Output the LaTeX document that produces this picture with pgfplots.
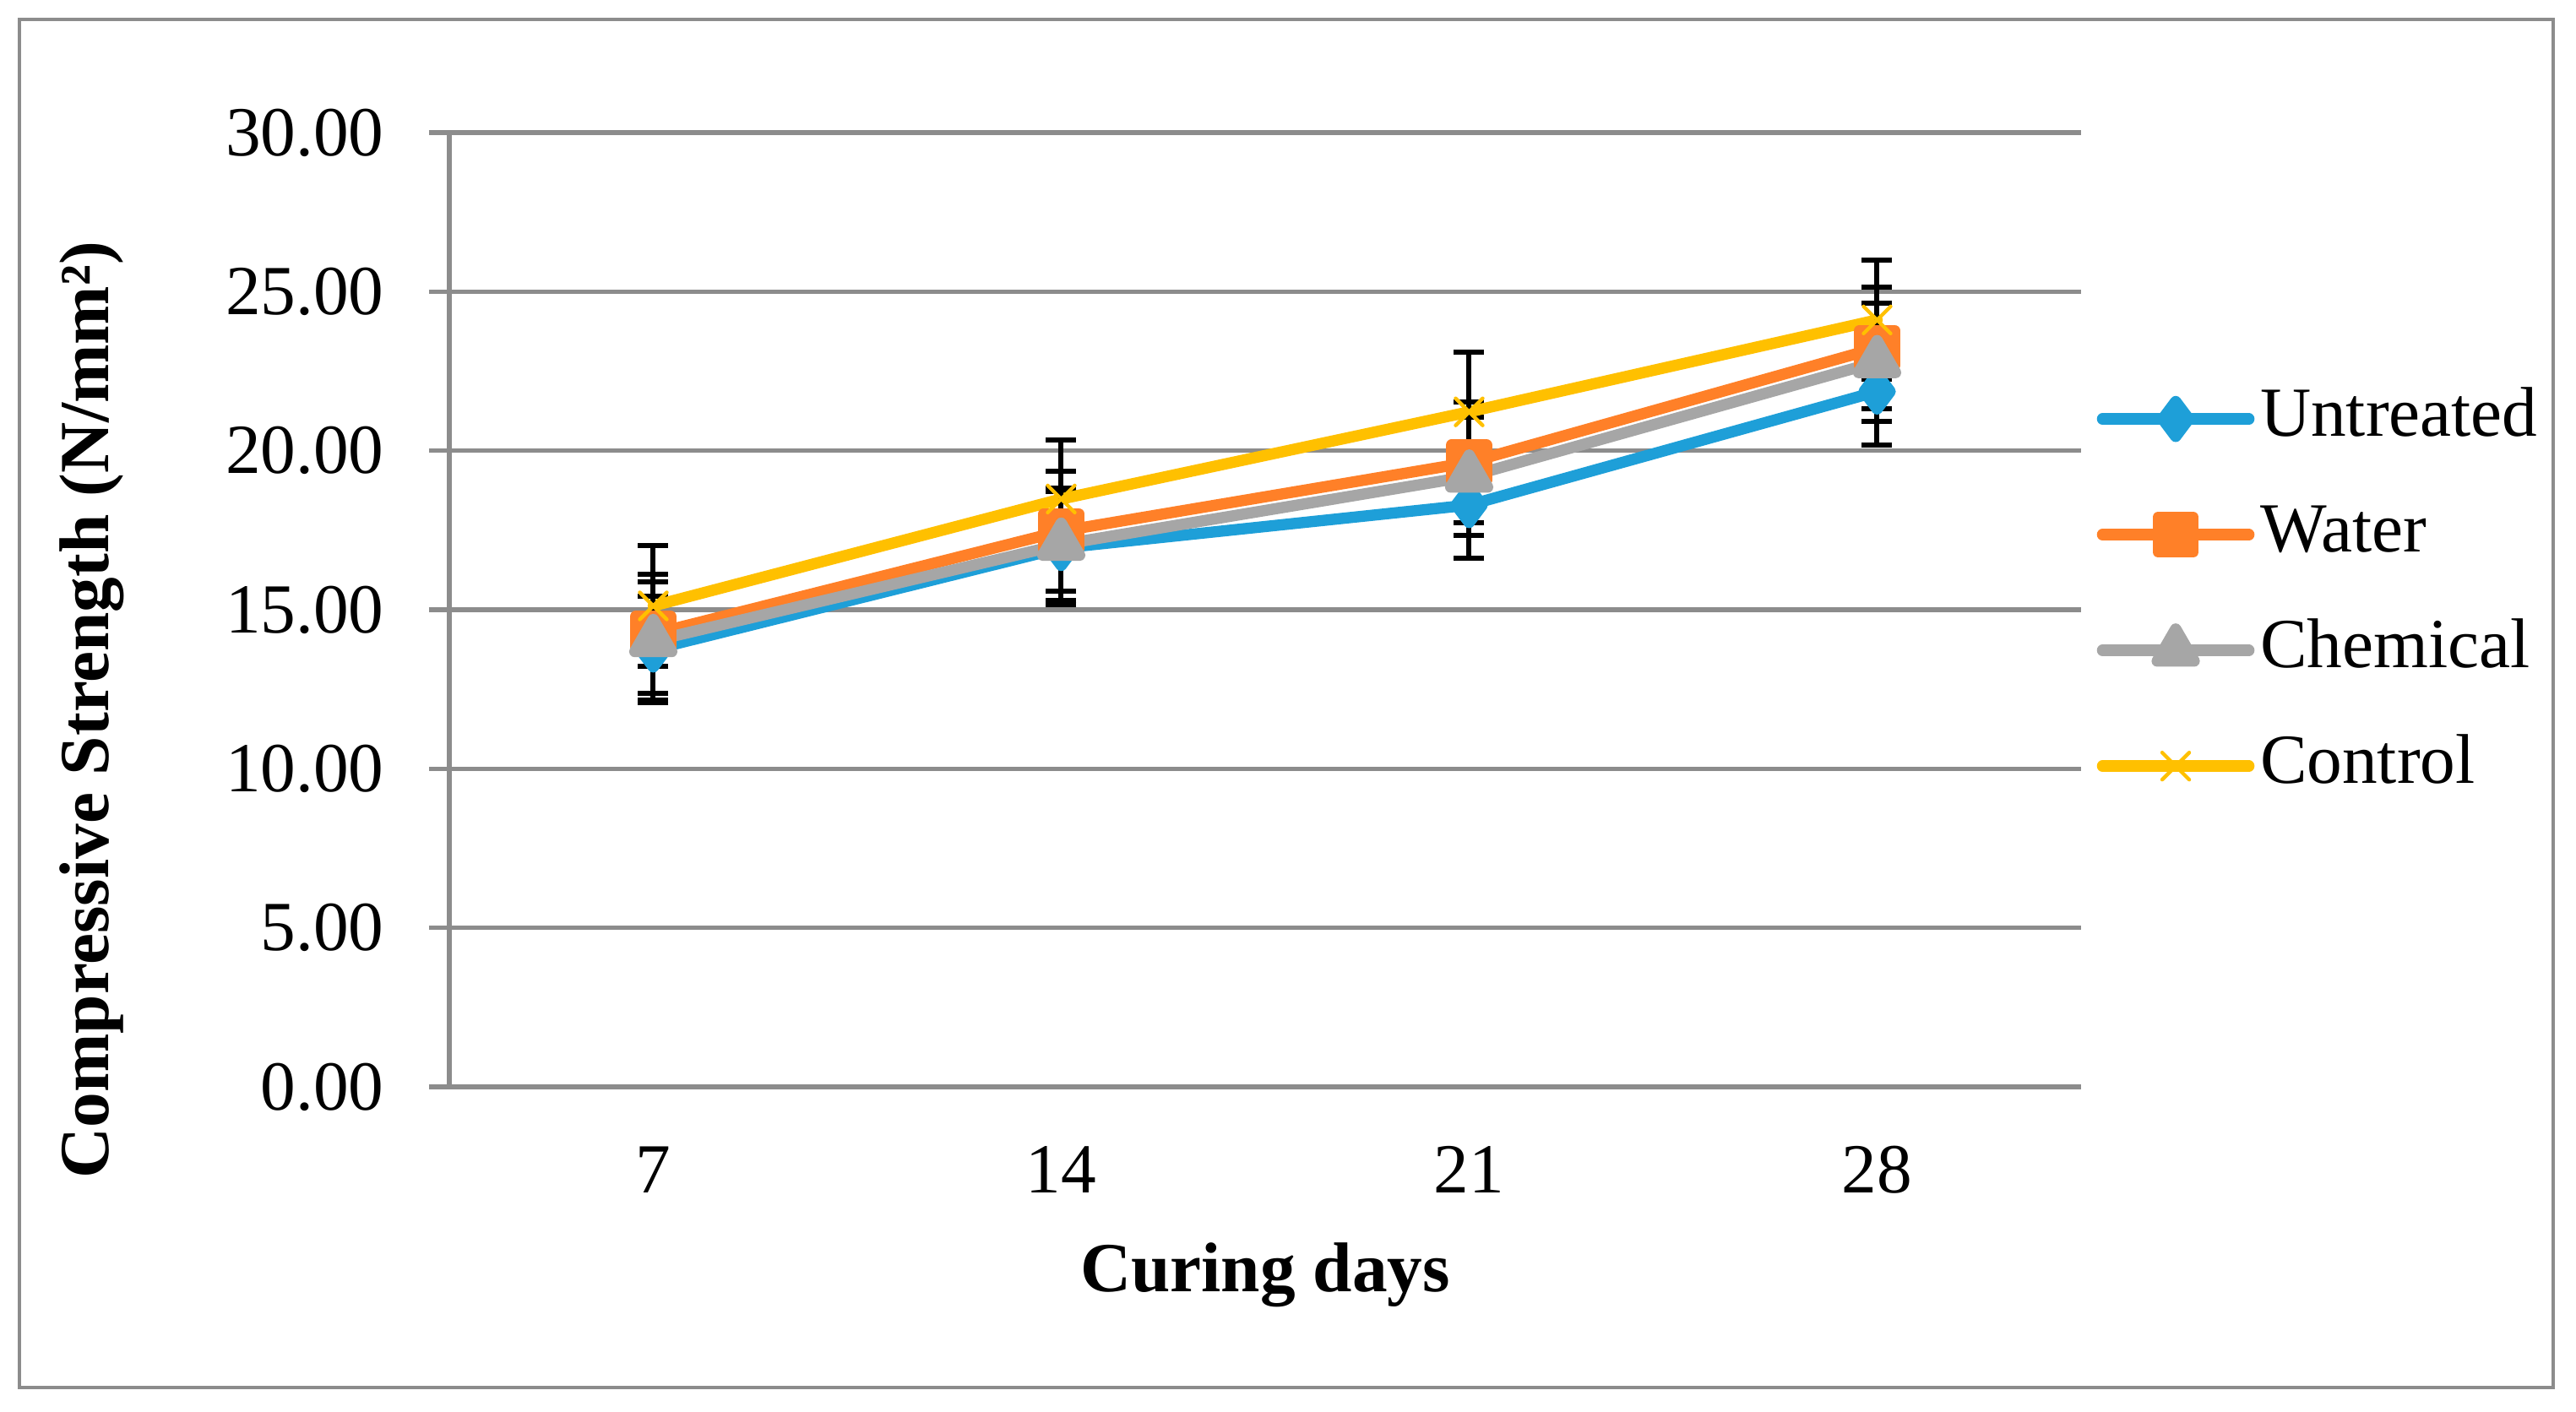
\documentclass[border=0pt]{standalone}
\usepackage{pgfplots}
\pgfplotsset{compat=1.18}
\usepackage{fontspec}
\setmainfont{Liberation Serif}

\definecolor{gridgray}{RGB}{140,140,140}
\definecolor{cUntreated}{RGB}{30,159,216}
\definecolor{cWater}{RGB}{255,128,40}
\definecolor{cChemical}{RGB}{166,166,166}
\definecolor{cControl}{RGB}{255,192,0}

\begin{document}
\begin{tikzpicture}
% page = 3050 x 1672 px at 0.15pt per px, axis box corner at the origin
\useasboundingbox (-79.8pt,-57.75pt) rectangle ++(457.5pt,250.8pt);
\draw[gridgray, line width=0.7pt] (-76.35pt,-53.4pt) rectangle (373.65pt,189.6pt);
\begin{axis}[
    scale only axis,
    width=289.8pt, height=169.5pt,
    font=\fontsize{12.5}{15}\selectfont,
    clip=false,
    xmin=0.5, xmax=4.5,
    ymin=0, ymax=30,
    xtick={1,2,3,4},
    xticklabels={7,14,21,28},
    ytick={0,5,10,15,20,25,30},
    yticklabels={0.00,5.00,10.00,15.00,20.00,25.00,30.00},
    axis lines*=left,
    axis line style={draw=gridgray, line width=0.8pt},
    ymajorgrids,
    grid style={draw=gridgray, line width=0.8pt},
    tick align=outside,
    major tick length=3.6pt,
    xtick style={draw=none},
    ytick style={draw=gridgray, line width=0.8pt},
    yticklabel style={inner sep=0pt, anchor=east, xshift=-7.8pt},
    xticklabel style={inner sep=0pt, anchor=base, yshift=-15.3pt},
    xlabel={\textbf{Curing days}},
    xlabel style={at={(axis description cs:0.5,-0.215)}, anchor=base, inner sep=0pt},
    ylabel={\textbf{Compressive Strength (N/mm²)}},
    ylabel style={at={(axis description cs:-0.209,0.395)}, anchor=base, rotate=0, inner sep=0pt},
    legend style={at={(axis description cs:1.009,0.518)}, anchor=west,
        draw=none, fill=none, inner sep=0pt, row sep=8.55pt,
        nodes={inner xsep=1pt, inner ysep=0pt, text height=9pt, text depth=3pt}},
    legend cell align=left,
    legend image code/.code={\draw[mark repeat=2, mark phase=2]
        plot coordinates {(0pt,0pt) (13pt,0pt) (26pt,0pt)};},
    every axis plot/.append style={line width=2pt, line cap=round, line join=round},
    error bars/error bar style={black, line width=0.9pt, line cap=butt},
    error bars/error mark options={black, rotate=90, mark size=2.7pt, line width=0.9pt},
]
\addplot[cUntreated, mark=diamond*, mark size=3.1pt,
    mark options={draw=none, fill=cUntreated},
    error bars/.cd, y dir=both, y explicit]
    coordinates {(1,13.75) +- (0,1.68) (2,16.94) +- (0,1.78) (3,18.29) +- (0,1.68) (4,21.86) +- (0,1.67)};
\addplot[cWater, mark=square*, mark size=3.1pt,
    mark options={draw=none, fill=cWater},
    error bars/.cd, y dir=both, y explicit]
    coordinates {(1,14.24) +- (0,1.88) (2,17.47) +- (0,1.88) (3,19.63) +- (0,1.90) (4,23.23) +- (0,1.90)};
\addplot[cChemical, mark=triangle*, mark size=3.8pt,
    mark options={draw=none, fill=cChemical},
    error bars/.cd, y dir=both, y explicit]
    coordinates {(1,14.02) +- (0,1.86) (2,17.05) +- (0,1.76) (3,19.19) +- (0,1.86) (4,22.79) +- (0,1.86)};
\addplot[cControl, mark=x, mark size=3.4pt,
    mark options={line width=0.65pt, cControl},
    error bars/.cd, y dir=both, y explicit]
    coordinates {(1,15.12) +- (0,1.90) (2,18.48) +- (0,1.86) (3,21.22) +- (0,1.87) (4,24.11) +- (0,1.87)};
\legend{Untreated, Water, Chemical, Control}
\end{axis}
\end{tikzpicture}
\end{document}
